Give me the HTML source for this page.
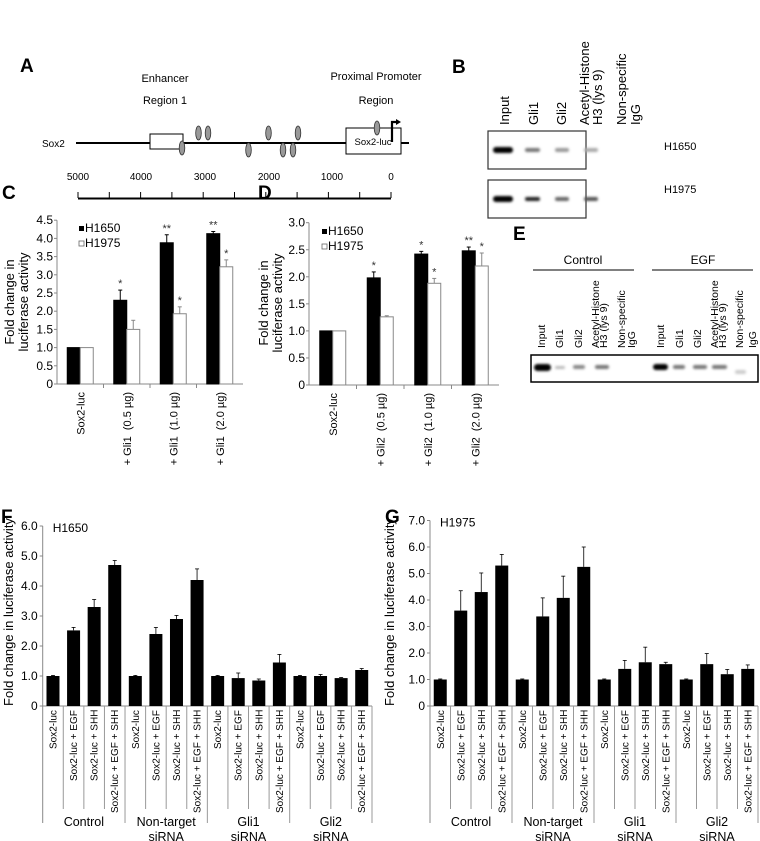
<!DOCTYPE html>
<html><head><meta charset="utf-8">
<style>
html,body{margin:0;padding:0;background:#fff;}
svg{display:block;font-family:"Liberation Sans",Arial,sans-serif;}
</style></head>
<body>
<svg id="fig" width="760" height="841" viewBox="0 0 760 841" xmlns="http://www.w3.org/2000/svg">
<defs>
<filter id="blur1" x="-50%" y="-50%" width="200%" height="200%"><feGaussianBlur stdDeviation="1.2"/></filter>
</defs>
<!-- Panel A -->
<g>
<text x="20" y="72" font-size="19" font-weight="bold">A</text>
<text x="165" y="82" font-size="11" text-anchor="middle">Enhancer</text>
<text x="165" y="104" font-size="11" text-anchor="middle">Region 1</text>
<text x="376" y="80" font-size="11" text-anchor="middle">Proximal Promoter</text>
<text x="376" y="104" font-size="11" text-anchor="middle">Region</text>
<text x="42" y="147" font-size="10">Sox2</text>
<line x1="76" y1="143" x2="409" y2="143" stroke="#000" stroke-width="2"/>
<rect x="150" y="134" width="33" height="15" fill="#fff" stroke="#000" stroke-width="1"/>
<rect x="346" y="128" width="55" height="26" fill="#fff" stroke="#000" stroke-width="1"/>
<text x="373" y="145" font-size="9.5" text-anchor="middle">Sox2-luc</text>
<path d="M392 142 V122 H397" fill="none" stroke="#000" stroke-width="2.2"/>
<path d="M396 119 L401 122 L396 125 Z" fill="#000"/>
<g fill="#999" stroke="#333" stroke-width="0.8">
<ellipse cx="182" cy="148" rx="2.8" ry="7"/>
<ellipse cx="198.5" cy="133" rx="2.8" ry="7"/>
<ellipse cx="208" cy="133" rx="2.8" ry="7"/>
<ellipse cx="248.5" cy="150" rx="2.8" ry="7"/>
<ellipse cx="268.5" cy="133" rx="2.8" ry="7"/>
<ellipse cx="283" cy="150" rx="2.8" ry="7"/>
<ellipse cx="293" cy="150" rx="2.8" ry="7"/>
<ellipse cx="298" cy="133" rx="2.8" ry="7"/>
<ellipse cx="377" cy="128" rx="2.8" ry="7"/>
</g>
<line x1="78" y1="198.5" x2="391" y2="198.5" stroke="#000" stroke-width="2"/>
<g id="scaleTicks" stroke="#000" stroke-width="1"></g>
<g font-size="10" text-anchor="middle">
<text x="78" y="180">5000</text>
<text x="141" y="180">4000</text>
<text x="205" y="180">3000</text>
<text x="269" y="180">2000</text>
<text x="332" y="180">1000</text>
<text x="391" y="180">0</text>
</g>
</g>
<!-- Panel B -->
<g>
<text x="452" y="73" font-size="19" font-weight="bold">B</text>
<g font-size="13">
<text transform="translate(509,125) rotate(-90)">Input</text>
<text transform="translate(538,125) rotate(-90)">Gli1</text>
<text transform="translate(566,125) rotate(-90)">Gli2</text>
<text transform="translate(589,125) rotate(-90)">Acetyl-Histone</text>
<text transform="translate(602,125) rotate(-90)">H3 (lys 9)</text>
<text transform="translate(626,125) rotate(-90)">Non-specific</text>
<text transform="translate(640,125) rotate(-90)">IgG</text>
</g>
<rect x="488" y="131" width="98" height="38" fill="#fff" stroke="#333" stroke-width="1.2"/>
<rect x="488" y="180" width="98" height="38" fill="#fff" stroke="#333" stroke-width="1.2"/>
<g filter="url(#blur1)">
<rect x="493" y="147" width="20" height="6" rx="3" fill="#000"/>
<rect x="525" y="148" width="15" height="4" rx="2" fill="#777"/>
<rect x="555" y="148" width="14" height="4" rx="2" fill="#999"/>
<rect x="584" y="148" width="14" height="4" rx="2" fill="#aaa"/>
<rect x="493" y="196" width="20" height="6" rx="3" fill="#000"/>
<rect x="525" y="197" width="15" height="4" rx="2" fill="#222"/>
<rect x="555" y="197" width="14" height="4" rx="2" fill="#666"/>
<rect x="584" y="197" width="14" height="4" rx="2" fill="#555"/>
</g>
<text x="664" y="150" font-size="11">H1650</text>
<text x="664" y="193" font-size="11">H1975</text>
</g>
<!-- Panel E -->
<g>
<text x="513" y="240" font-size="19" font-weight="bold">E</text>
<text x="583" y="264" font-size="12" text-anchor="middle">Control</text>
<line x1="533" y1="270" x2="634" y2="270" stroke="#000"/>
<text x="703" y="264" font-size="12" text-anchor="middle">EGF</text>
<line x1="652" y1="270" x2="753" y2="270" stroke="#000"/>
<g font-size="10.5">
<text transform="translate(545,348) rotate(-90)">Input</text>
<text transform="translate(563,348) rotate(-90)">Gli1</text>
<text transform="translate(582,348) rotate(-90)">Gli2</text>
<text transform="translate(599,348) rotate(-90)">Acetyl-Histone</text>
<text transform="translate(607,348) rotate(-90)">H3 (lys 9)</text>
<text transform="translate(625,348) rotate(-90)">Non-specific</text>
<text transform="translate(635,348) rotate(-90)">IgG</text>
<text transform="translate(664,348) rotate(-90)">Input</text>
<text transform="translate(683,348) rotate(-90)">Gli1</text>
<text transform="translate(701,348) rotate(-90)">Gli2</text>
<text transform="translate(718,348) rotate(-90)">Acetyl-Histone</text>
<text transform="translate(726,348) rotate(-90)">H3 (lys 9)</text>
<text transform="translate(743,348) rotate(-90)">Non-specific</text>
<text transform="translate(756,348) rotate(-90)">IgG</text>
</g>
<rect x="531" y="355" width="227" height="27" fill="#fff" stroke="#000" stroke-width="1.5"/>
<g filter="url(#blur1)">
<rect x="534" y="364" width="17" height="7" rx="3.5" fill="#000"/>
<rect x="555" y="366" width="10" height="3" rx="1.5" fill="#bbb"/>
<rect x="573" y="365" width="12" height="4" rx="2" fill="#888"/>
<rect x="595" y="365" width="14" height="4" rx="2" fill="#777"/>
<rect x="653" y="364" width="15" height="6" rx="3" fill="#000"/>
<rect x="673" y="365" width="12" height="4" rx="2" fill="#777"/>
<rect x="693" y="365" width="14" height="4" rx="2" fill="#777"/>
<rect x="712" y="365" width="15" height="4" rx="2" fill="#777"/>
<rect x="735" y="370" width="11" height="4" rx="2" fill="#ccc"/>
</g>
</g>
<g id="charts"></g>
</svg>
<script>
// ---------- Data: panel C ----------
const cCategories = ["Sox2-luc", "+ Gli1\u00a0\u00a0(0.5 \u00b5g)", "+ Gli1\u00a0\u00a0(1.0 \u00b5g)", "+ Gli1\u00a0\u00a0(2.0 \u00b5g)"];
const cH1650 = [1.0, 2.3, 3.88, 4.13];
const cH1650Err = [0.0, 0.28, 0.22, 0.06];
const cH1975 = [1.0, 1.5, 1.93, 3.22];
const cH1975Err = [0.0, 0.25, 0.19, 0.19];
const cH1650Sig = ["", "*", "**", "**"];
const cH1975Sig = ["", "", "*", "*"];
const cTicks = ["0", "0.5", "1.0", "1.5", "2.0", "2.5", "3.0", "3.5", "4.0", "4.5"];
// ---------- Data: panel D ----------
const dCategories = ["Sox2-luc", "+ Gli2\u00a0\u00a0(0.5 \u00b5g)", "+ Gli2\u00a0\u00a0(1.0 \u00b5g)", "+ Gli2\u00a0\u00a0(2.0 \u00b5g)"];
const dH1650 = [1.0, 1.98, 2.42, 2.48];
const dH1650Err = [0.0, 0.11, 0.05, 0.07];
const dH1975 = [1.0, 1.26, 1.88, 2.2];
const dH1975Err = [0.0, 0.02, 0.09, 0.24];
const dH1650Sig = ["", "*", "*", "**"];
const dH1975Sig = ["", "", "*", "*"];
const dTicks = ["0", "0.5", "1.0", "1.5", "2.0", "2.5", "3.0"];
// ---------- Data: panels F and G ----------
const conditions = ["Sox2-luc", "Sox2-luc + EGF", "Sox2-luc + SHH", "Sox2-luc + EGF + SHH"];
const groups = [["Control"], ["Non-target", "siRNA"], ["Gli1", "siRNA"], ["Gli2", "siRNA"]];
const fValues = [1.0, 2.52, 3.3, 4.7, 1.0, 2.4, 2.9, 4.2, 1.0, 0.93, 0.85, 1.45, 1.0, 1.0, 0.93, 1.2];
const fErr = [0.02, 0.1, 0.25, 0.15, 0.02, 0.22, 0.12, 0.37, 0.02, 0.17, 0.05, 0.27, 0.02, 0.05, 0.02, 0.05];
const fTicks = ["0", "1.0", "2.0", "3.0", "4.0", "5.0", "6.0"];
const gValues = [1.0, 3.6, 4.3, 5.3, 1.0, 3.38, 4.08, 5.25, 1.0, 1.4, 1.65, 1.58, 1.0, 1.58, 1.2, 1.4];
const gErr = [0.02, 0.75, 0.72, 0.42, 0.02, 0.7, 0.82, 0.75, 0.02, 0.32, 0.57, 0.07, 0.02, 0.4, 0.18, 0.15];
const gTicks = ["0", "1.0", "2.0", "3.0", "4.0", "5.0", "6.0", "7.0"];

const NS = "http://www.w3.org/2000/svg";
const root = document.getElementById("charts");
function mk(tag, attrs, parent, txt) {
  const e = document.createElementNS(NS, tag);
  for (const k in attrs) e.setAttribute(k, attrs[k]);
  if (txt !== undefined) e.textContent = txt;
  (parent || root).appendChild(e);
  return e;
}

(function () {
  const g = document.getElementById("scaleTicks");
  for (let i = 0; i <= 10; i++) {
    const x = 78 + i * 31.3;
    const l = mk("line", { x1: x, y1: 192, x2: x, y2: 198 }, g);
    
    
  }
})();

function groupedChart(o) {
  const g = mk("g", {});
  
  
  const yS = v => o.y0 - v * o.unit;
  const n = o.cats.length;
  const bw = (o.x1 - o.x0) / n;
  const ya = mk("line", { x1: o.x0, y1: yS(o.max), x2: o.x0, y2: o.y0, stroke: "#888" }, g);
  
  
  const xa = mk("line", { x1: o.x0, y1: o.y0, x2: o.x1, y2: o.y0, stroke: "#888" }, g);
  
  
  o.ticks.forEach((t, i) => {
    const v = i * o.step, y = yS(v);
    const tl = mk("line", { x1: o.x0 - 3, y1: y, x2: o.x0, y2: y, stroke: "#888" }, g);
    
    
    const tt = mk("text", { x: o.x0 - 4, y: y + 4, "font-size": 12, "text-anchor": "end" }, g, t);
    
    
  });
  for (let i = 1; i < n; i++) {
    const x = o.x0 + i * bw;
    const sl = mk("line", { x1: x, y1: o.y0, x2: x, y2: o.y0 + 4, stroke: "#888" }, g);
    
    
  }
  const barW = 13;
  o.cats.forEach((c, i) => {
    const cx = o.x0 + (i + 0.5) * bw;
    [[o.a, o.aErr, o.aSig, "#000", "#000", cx - barW, "bar-h1650"], [o.b, o.bErr, o.bSig, "#fff", "#888", cx, "bar-h1975"]].forEach(s => {
      const v = s[0][i], e = s[1][i];
      const r = mk("rect", { x: s[5], y: yS(v), width: barW, height: v * o.unit, fill: s[3], stroke: s[4], "stroke-width": 1 }, g);
      
      
      const ex = s[5] + barW / 2;
      if (e > 0) {
        const el = mk("line", { x1: ex, y1: yS(v), x2: ex, y2: yS(v + e), stroke: s[4] }, g);
        
        
        const ec = mk("line", { x1: ex - 2, y1: yS(v + e), x2: ex + 2, y2: yS(v + e), stroke: s[4] }, g);
        
        
      }
      if (s[2][i]) {
        const st = mk("text", { x: ex, y: yS(v + e) - 3, "font-size": 11, "text-anchor": "middle", fill: "#333" }, g, s[2][i]);
        
        
      }
    });
    const lt = mk("text", { transform: `translate(${cx + 4},${o.y0 + 8}) rotate(-90)`, "font-size": 11, "text-anchor": "end" }, g, c);
    
    
  });
  const lg = mk("g", {}, g);
  
  
  const l1 = mk("rect", { x: o.legX, y: o.legY - 6, width: 5, height: 5, fill: "#000" }, lg);
  
  
  const t1 = mk("text", { x: o.legX + 6, y: o.legY, "font-size": 12 }, lg, "H1650");
  
  
  const l2 = mk("rect", { x: o.legX, y: o.legY + 9, width: 5, height: 5, fill: "#fff", stroke: "#666", "stroke-width": 0.8 }, lg);
  
  
  const t2 = mk("text", { x: o.legX + 6, y: o.legY + 15, "font-size": 12 }, lg, "H1975");
  
  
  const yt1 = mk("text", { transform: `translate(${o.titleX},${o.titleY}) rotate(-90)`, "font-size": 13, "text-anchor": "middle" }, g, "Fold change in");
  
  
  const yt2 = mk("text", { transform: `translate(${o.titleX + 14},${o.titleY}) rotate(-90)`, "font-size": 13, "text-anchor": "middle" }, g, "luciferase activity");
  
  
  const pl = mk("text", { x: o.labX, y: o.labY, "font-size": 19, "font-weight": "bold" }, g, o.label);
  
  
}

groupedChart({ name: "chart-c", cats: cCategories, a: cH1650, aErr: cH1650Err, aSig: cH1650Sig, b: cH1975, bErr: cH1975Err, bSig: cH1975Sig,
  ticks: cTicks, step: 0.5, max: 4.5, x0: 57, x1: 243, y0: 384, unit: 36.4, legX: 79, legY: 232, titleX: 14, titleY: 302, labX: 2, labY: 199, label: "C" });
groupedChart({ name: "chart-d", cats: dCategories, a: dH1650, aErr: dH1650Err, aSig: dH1650Sig, b: dH1975, bErr: dH1975Err, bSig: dH1975Sig,
  ticks: dTicks, step: 0.5, max: 3.0, x0: 309, x1: 499, y0: 385, unit: 54.1, legX: 322, legY: 235, titleX: 268, titleY: 303, labX: 258, labY: 199, label: "D" });

const labelBottomOffset = [43, 75, 75, 107];
function siRNAChart(o) {
  const g = mk("g", {});
  
  
  const yS = v => o.y0 - v * o.unit;
  const n = o.values.length;
  const bw = (o.x1 - o.x0) / n;
  const ya = mk("line", { x1: o.x0, y1: yS(o.ticks.length - 1), x2: o.x0, y2: o.y0 + 117, stroke: "#888" }, g);
  
  
  const xa = mk("line", { x1: o.x0, y1: o.y0, x2: o.x1, y2: o.y0, stroke: "#888" }, g);
  
  
  o.ticks.forEach((t, i) => {
    const y = yS(i);
    const tl = mk("line", { x1: o.x0 - 3, y1: y, x2: o.x0, y2: y, stroke: "#888" }, g);
    
    
    const tt = mk("text", { x: o.x0 - 5, y: y + 4, "font-size": 12, "text-anchor": "end" }, g, t);
    
    
  });
  for (let i = 1; i <= n; i++) {
    const x = o.x0 + i * bw;
    const isGroup = i % 4 === 0;
    const sl = mk("line", { x1: x, y1: o.y0, x2: x, y2: o.y0 + (isGroup ? 117 : 103), stroke: "#999" }, g);
    
    
  }
  o.values.forEach((v, i) => {
    const cx = o.x0 + (i + 0.5) * bw;
    const r = mk("rect", { x: cx - 6.5, y: yS(v), width: 13, height: v * o.unit, fill: "#000" }, g);
    
    
    const e = o.err[i];
    const el = mk("line", { x1: cx, y1: yS(v), x2: cx, y2: yS(v + e), stroke: "#000", "stroke-width": 0.8 }, g);
    
    
    const ec = mk("line", { x1: cx - 2, y1: yS(v + e), x2: cx + 2, y2: yS(v + e), stroke: "#000", "stroke-width": 0.8 }, g);
    
    
    const c = conditions[i % 4];
    const lt = mk("text", { transform: `translate(${cx + 3.5},${o.y0 + labelBottomOffset[i % 4]}) rotate(-90)`, "font-size": 10 }, g, c);
    
    
  });
  groups.forEach((gl, j) => {
    const cx = o.x0 + (j * 4 + 2) * bw;
    gl.forEach((line, k) => {
      const t = mk("text", { x: cx, y: o.y0 + 120 + k * 15, "font-size": 12.5, "text-anchor": "middle" }, g, line);
      
      
    });
  });
  const yt = mk("text", { transform: `translate(${o.titleX},${o.titleY}) rotate(-90)`, "font-size": 13, "text-anchor": "middle" }, g, "Fold change in luciferase activity");
  
  
  const ct = mk("text", { x: o.x0 + 10, y: yS(o.ticks.length - 1) + 6, "font-size": 12 }, g, o.cell);
  
  
  const pl = mk("text", { x: o.labX, y: 523, "font-size": 19, "font-weight": "bold" }, g, o.label);
  
  
}
siRNAChart({ name: "chart-f", values: fValues, err: fErr, ticks: fTicks, x0: 42.7, x1: 372, y0: 706, unit: 30.0, titleX: 13, titleY: 612, cell: "H1650", label: "F", labX: 1 });
siRNAChart({ name: "chart-g", values: gValues, err: gErr, ticks: gTicks, x0: 430, x1: 758, y0: 706, unit: 26.5, titleX: 394, titleY: 612, cell: "H1975", label: "G", labX: 385 });
</script>
</body></html>
